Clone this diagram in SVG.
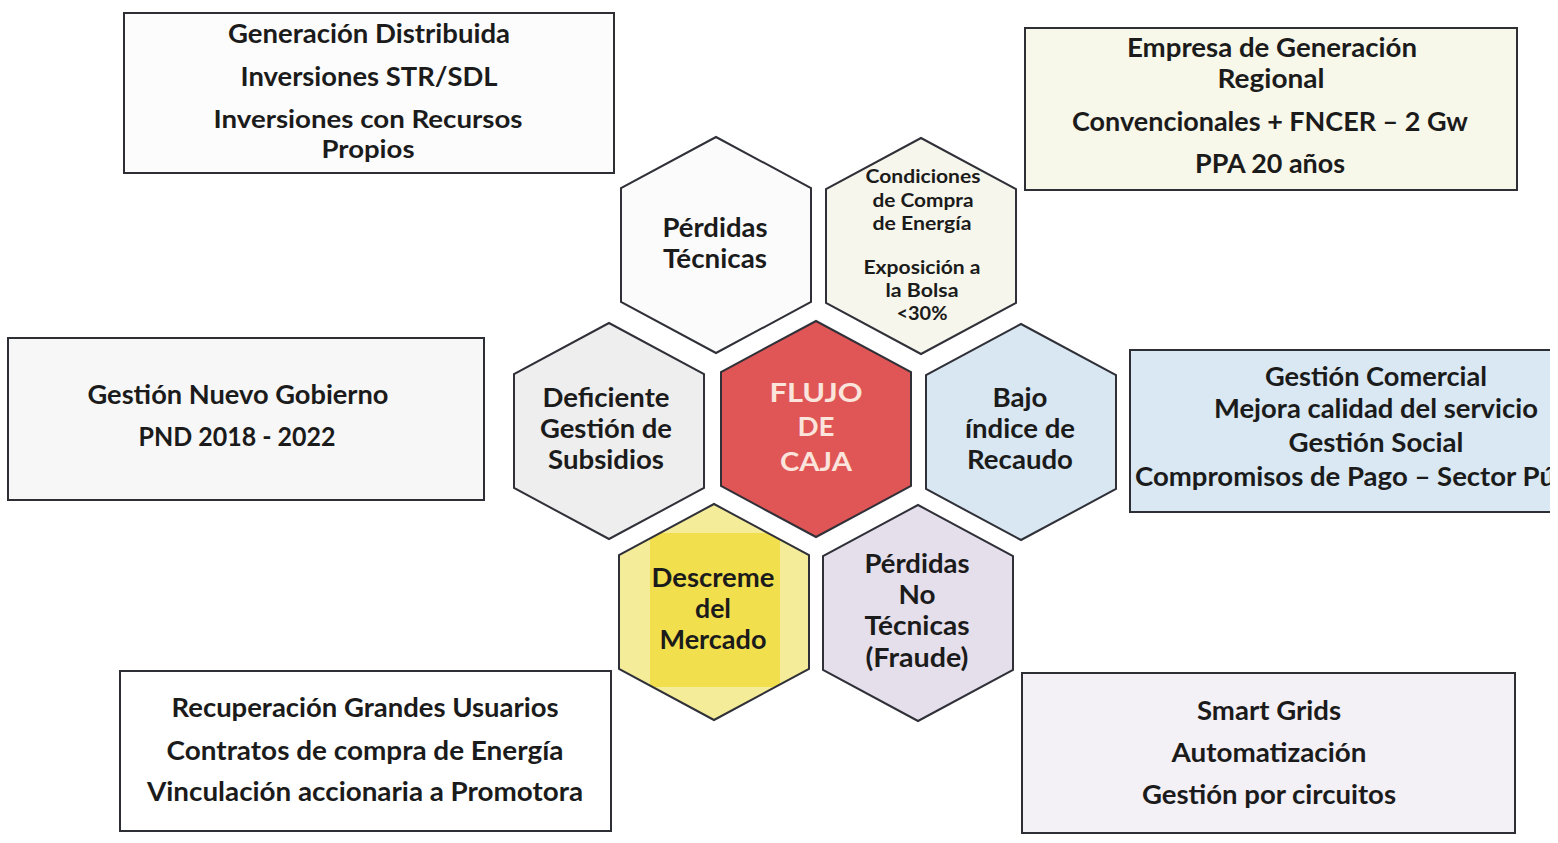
<svg xmlns="http://www.w3.org/2000/svg" width="1558" height="843" viewBox="0 0 1558 843">
<style>
  .box { stroke: #2e2e35; stroke-width: 2; }
  .hex { stroke: #2f3038; stroke-width: 2; }
  text { font-family: Lato, "Open Sans", "Liberation Sans", sans-serif; font-weight: 700; fill: #1b1b1b; text-anchor: middle; }
  .b { font-size: 26px; }
  .b2 { font-size: 24px; }
  .h { font-size: 26px; }
  .s { font-size: 19px; }
  .w { fill: #fbe4dc; }
</style>
<defs>
  <polygon id="hexshape" points="0,-108 95,-57 95,57 0,108 -95,57 -95,-57"/>
  <clipPath id="clipR"><rect x="0" y="0" width="1550" height="843"/></clipPath>
  <clipPath id="clipM"><use href="#hexshape" transform="translate(714,612)"/></clipPath>
</defs>
<rect x="0" y="0" width="1558" height="843" fill="#ffffff"/>

<g id="connectors"></g>

<g id="box-top-left">
  <rect class="box" x="124" y="13" width="490" height="160" fill="#fcfcfc"/>
  <text class="b" x="369" y="43" textLength="282" lengthAdjust="spacingAndGlyphs">Generación Distribuida</text>
  <text class="b" x="369" y="86" textLength="257" lengthAdjust="spacingAndGlyphs">Inversiones STR/SDL</text>
  <text class="b2" x="368" y="128" textLength="309" lengthAdjust="spacingAndGlyphs">Inversiones con Recursos</text>
  <text class="b2" x="368" y="158" textLength="93" lengthAdjust="spacingAndGlyphs">Propios</text>
</g>

<g id="box-top-right">
  <rect class="box" x="1025" y="28" width="492" height="162" fill="#f7f7ea"/>
  <text class="b" x="1272" y="57" textLength="290" lengthAdjust="spacingAndGlyphs">Empresa de Generación</text>
  <text class="b" x="1271" y="88" textLength="107" lengthAdjust="spacingAndGlyphs">Regional</text>
  <text class="b" x="1270" y="131" textLength="396" lengthAdjust="spacingAndGlyphs">Convencionales + FNCER – 2 Gw</text>
  <text class="b" x="1270" y="173" textLength="150" lengthAdjust="spacingAndGlyphs">PPA 20 años</text>
</g>

<g id="box-left">
  <rect class="box" x="8" y="338" width="476" height="162" fill="#f7f7f7"/>
  <text class="b" x="238" y="404" textLength="301" lengthAdjust="spacingAndGlyphs">Gestión Nuevo Gobierno</text>
  <text class="b" x="237" y="446" textLength="197" lengthAdjust="spacingAndGlyphs">PND 2018 - 2022</text>
</g>

<g id="box-right" clip-path="url(#clipR)">
  <rect class="box" x="1130" y="350" width="500" height="162" fill="#d9e8f3"/>
  <text class="b" x="1376" y="386" textLength="222" lengthAdjust="spacingAndGlyphs">Gestión Comercial</text>
  <text class="b" x="1376" y="418" textLength="324" lengthAdjust="spacingAndGlyphs">Mejora calidad del servicio</text>
  <text class="b" x="1376" y="452" textLength="175" lengthAdjust="spacingAndGlyphs">Gestión Social</text>
  <text class="b" x="1135" y="486" style="text-anchor:start" textLength="420" lengthAdjust="spacingAndGlyphs">Compromisos de Pago – Sector Pú</text>
</g>

<g id="box-bottom-left">
  <rect class="box" x="120" y="671" width="491" height="160" fill="#ffffff"/>
  <text class="b" x="365" y="717" textLength="387" lengthAdjust="spacingAndGlyphs">Recuperación Grandes Usuarios</text>
  <text class="b" x="365" y="760" textLength="397" lengthAdjust="spacingAndGlyphs">Contratos de compra de Energía</text>
  <text class="b" x="365" y="801" textLength="436" lengthAdjust="spacingAndGlyphs">Vinculación accionaria a Promotora</text>
</g>

<g id="box-bottom-right">
  <rect class="box" x="1022" y="673" width="493" height="160" fill="#f3f0f6"/>
  <text class="b" x="1269" y="720" textLength="144" lengthAdjust="spacingAndGlyphs">Smart Grids</text>
  <text class="b" x="1269" y="762" textLength="195" lengthAdjust="spacingAndGlyphs">Automatización</text>
  <text class="b" x="1269" y="804" textLength="254" lengthAdjust="spacingAndGlyphs">Gestión por circuitos</text>
</g>

<g id="hex-perdidas-tecnicas">
  <use href="#hexshape" class="hex" transform="translate(716,245)" fill="#fbfbfb"/>
  <text class="h" x="715" y="237" textLength="105" lengthAdjust="spacingAndGlyphs">Pérdidas</text>
  <text class="h" x="715" y="268" textLength="104" lengthAdjust="spacingAndGlyphs">Técnicas</text>
</g>

<g id="hex-condiciones">
  <use href="#hexshape" class="hex" transform="translate(921,246)" fill="#f6f6ec"/>
  <text class="s" x="923" y="183" textLength="115" lengthAdjust="spacingAndGlyphs">Condiciones</text>
  <text class="s" x="923" y="207" textLength="101" lengthAdjust="spacingAndGlyphs">de Compra</text>
  <text class="s" x="922" y="230" textLength="99" lengthAdjust="spacingAndGlyphs">de Energía</text>
  <text class="s" x="922" y="274" textLength="117" lengthAdjust="spacingAndGlyphs">Exposición a</text>
  <text class="s" x="922" y="297" textLength="73" lengthAdjust="spacingAndGlyphs">la Bolsa</text>
  <text class="s" x="922" y="320" textLength="51" lengthAdjust="spacingAndGlyphs">&lt;30%</text>
</g>

<g id="hex-deficiente">
  <use href="#hexshape" class="hex" transform="translate(609,431)" fill="#eeeeee"/>
  <text class="h" x="606" y="407" textLength="127" lengthAdjust="spacingAndGlyphs">Deficiente</text>
  <text class="h" x="606" y="438" textLength="132" lengthAdjust="spacingAndGlyphs">Gestión de</text>
  <text class="h" x="606" y="469" textLength="116" lengthAdjust="spacingAndGlyphs">Subsidios</text>
</g>

<g id="hex-flujo">
  <use href="#hexshape" class="hex" transform="translate(816,429)" fill="#e05656"/>
  <text class="h w" x="816" y="402" textLength="93" lengthAdjust="spacingAndGlyphs">FLUJO</text>
  <text class="h w" x="816" y="436" textLength="37" lengthAdjust="spacingAndGlyphs">DE</text>
  <text class="h w" x="816" y="471" textLength="72" lengthAdjust="spacingAndGlyphs">CAJA</text>
</g>

<g id="hex-bajo">
  <use href="#hexshape" class="hex" transform="translate(1021,432)" fill="#d8e7f2"/>
  <text class="h" x="1020" y="407" textLength="55" lengthAdjust="spacingAndGlyphs">Bajo</text>
  <text class="h" x="1020" y="438" textLength="110" lengthAdjust="spacingAndGlyphs">índice de</text>
  <text class="h" x="1020" y="469" textLength="106" lengthAdjust="spacingAndGlyphs">Recaudo</text>
</g>

<g id="hex-descreme">
  <use href="#hexshape" transform="translate(714,612)" fill="#f4ec98"/>
  <rect x="650" y="533" width="130" height="154" fill="#f2df4e" clip-path="url(#clipM)"/>
  <use href="#hexshape" class="hex" transform="translate(714,612)" fill="none"/>
  <text class="h" x="713" y="587" textLength="123" lengthAdjust="spacingAndGlyphs">Descreme</text>
  <text class="h" x="713" y="618" textLength="36" lengthAdjust="spacingAndGlyphs">del</text>
  <text class="h" x="713" y="649" textLength="107" lengthAdjust="spacingAndGlyphs">Mercado</text>
</g>

<g id="hex-perdidas-no-tecnicas">
  <use href="#hexshape" class="hex" transform="translate(918,613)" fill="#e5dfec"/>
  <text class="h" x="917" y="573" textLength="105" lengthAdjust="spacingAndGlyphs">Pérdidas</text>
  <text class="h" x="917" y="604" textLength="37" lengthAdjust="spacingAndGlyphs">No</text>
  <text class="h" x="917" y="635" textLength="105" lengthAdjust="spacingAndGlyphs">Técnicas</text>
  <text class="h" x="917" y="667" textLength="103" lengthAdjust="spacingAndGlyphs">(Fraude)</text>
</g>
</svg>
